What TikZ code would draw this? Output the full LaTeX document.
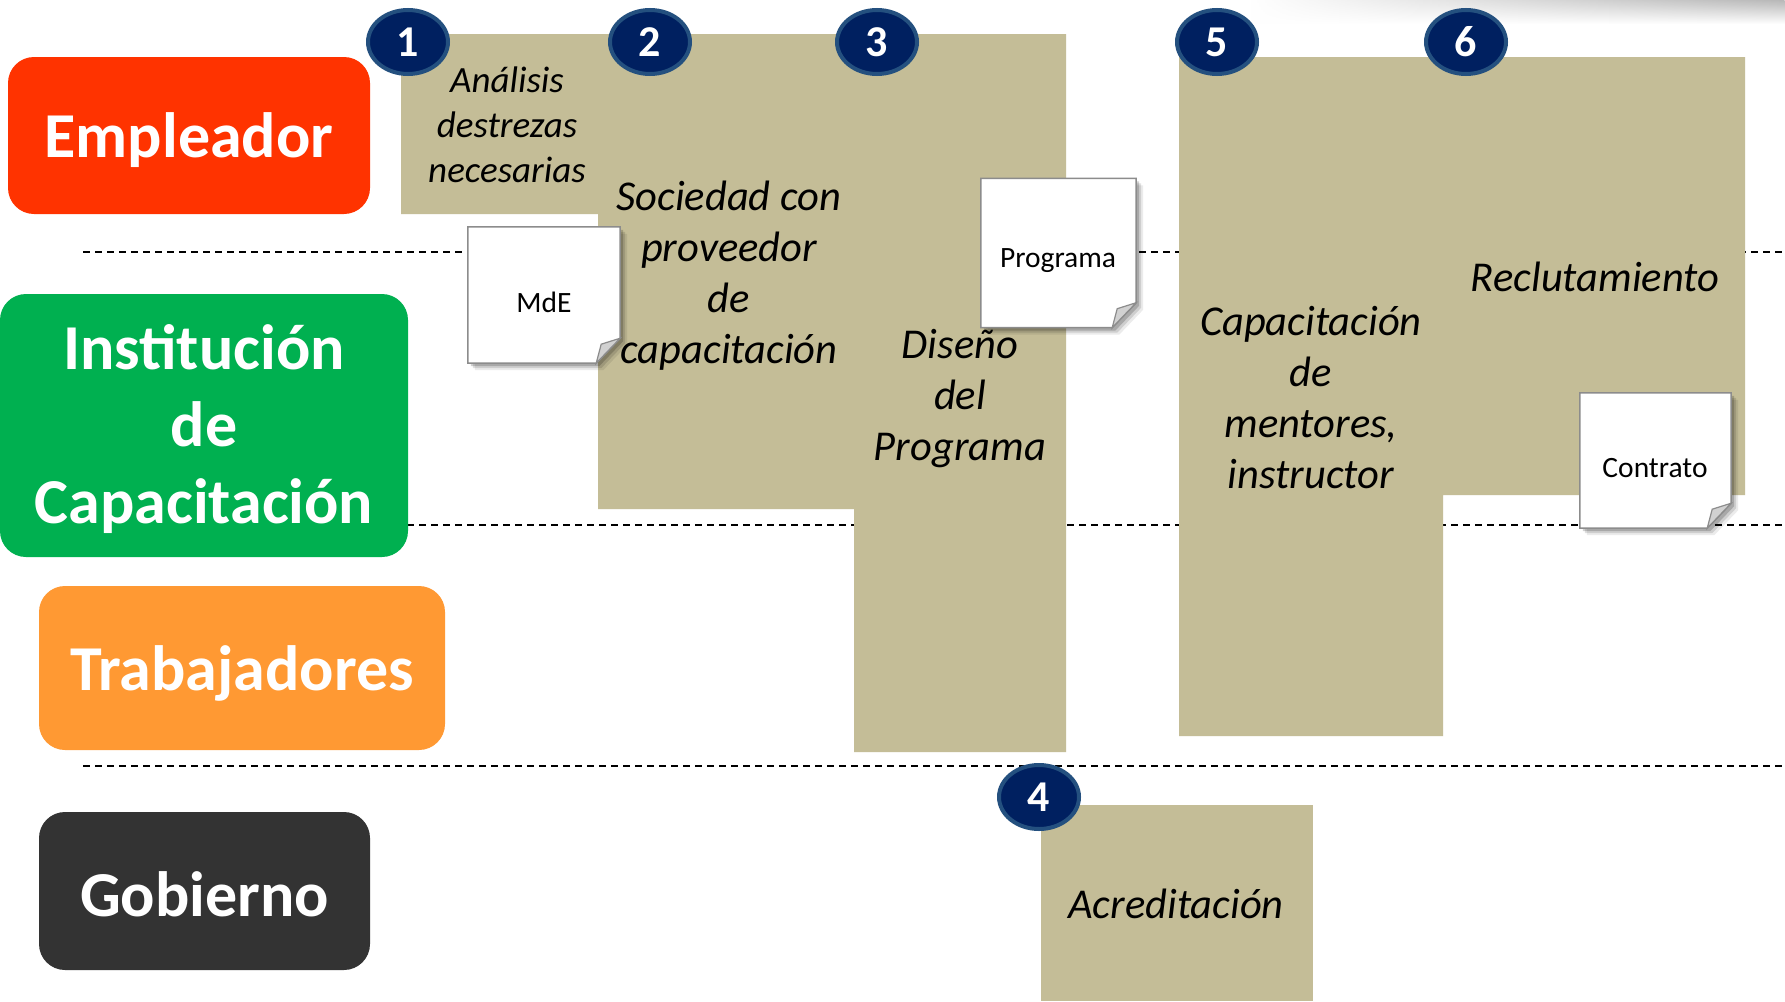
\documentclass[tikz,border=0pt]{standalone}
\usepackage{fontspec}
\setmainfont{Carlito}
\usetikzlibrary{shapes.geometric,calc,fadings}
\definecolor{tanbox}{HTML}{C4BD97}
\definecolor{empred}{HTML}{FF3300}
\definecolor{insgreen}{HTML}{00B050}
\definecolor{traorange}{HTML}{FF9933}
\definecolor{gobdark}{HTML}{333333}
\definecolor{navy}{HTML}{002060}
\definecolor{navyring}{HTML}{24507F}
\tikzfading[name=fadeR, left color=transparent!100, right color=transparent!0]
\tikzset{
  lanebox/.style={rounded corners=26pt, inner sep=0pt, draw=none},
  lanetext/.style={text=white, align=center, inner sep=0pt,
    font=\bfseries\fontsize{64}{77}\selectfont},
  stepnum/.style={ellipse, fill=navy, draw=navyring, line width=4pt,
    minimum width=80pt, minimum height=64pt, inner sep=0pt, text=white,
    font=\bfseries\fontsize{44}{50}\selectfont},
  steptext/.style={align=center, inner sep=0pt, font=\itshape\fontsize{42.5}{51}\selectfont},
  smalltext/.style={align=center, inner sep=0pt, font=\itshape\fontsize{37}{45}\selectfont},
  docnode/.style={inner sep=0pt, font=\fontsize{29.5}{34}\selectfont},
  sep/.style={dash pattern=on 7pt off 5pt, line width=1.6pt, black},
  tanfill/.style={fill=tanbox, draw=none}
}
\newcommand{\docpaper}[1]{%
  \foreach \o/\op in {7/0.08,5/0.12,3/0.18}{%
    \fill[black,opacity=\op] ($(#1.north west)+(\o,\o)$) -- ($(#1.north east)+(\o,\o)$)
      -- ($(#1.south east)+(\o,\o-25)$) -- ($(#1.south east)+(\o-24,\o)$)
      -- ($(#1.south west)+(\o,\o)$) -- cycle;}
  \filldraw[fill=white, draw=black!45, line width=1.5pt] (#1.north west) -- (#1.north east)
    -- ($(#1.south east)+(0,-25)$) -- ($(#1.south east)+(-24,0)$) -- (#1.south west) -- cycle;
  \filldraw[fill=black!18, draw=black!45, line width=1.2pt] ($(#1.south east)+(0,-25)$)
    -- ($(#1.south east)+(-19,-19)$) -- ($(#1.south east)+(-24,0)$) -- cycle;
}
\begin{document}
\begin{tikzpicture}[x=1pt,y=-1pt]
\useasboundingbox (0,0) rectangle (1785,1001);
\fill[white] (0,0) rectangle (1785,1001);
% top-right shading
\shade[top color=black!28, bottom color=white, path fading=fadeR] (1250,0) rectangle (1785,24);

% separator lines
\coordinate (s1a) at (83,252);  \coordinate (s1b) at (1785,252);
\coordinate (s2a) at (83,525);  \coordinate (s2b) at (1785,525);
\coordinate (s3a) at (83,766);  \coordinate (s3b) at (1785,766);
\draw[sep] (s1a) -- (s1b);
\draw[sep] (s2a) -- (s2b);
\draw[sep] (s3a) -- (s3b);

% lane labels
\node[lanebox, fill=empred, minimum width=362pt, minimum height=157pt] (emp) at (189,135.5) {};
\node[lanetext] (empt) at ($(emp)+(0,5)$) {Empleador};
\node[lanebox, fill=insgreen, minimum width=408pt, minimum height=263pt] (ins) at (204,425.5) {};
\node[lanetext] (inst) at ($(ins)+(0,4)$) {Institución\\de\\Capacitación};
\node[lanebox, fill=traorange, minimum width=406pt, minimum height=164pt] (tra) at (242,668) {};
\node[lanetext] (trat) at ($(tra)+(0,5)$) {Trabajadores};
\node[lanebox, fill=gobdark, minimum width=331pt, minimum height=158pt] (gob) at (204.5,891) {};
\node[lanetext] (gobt) at ($(gob)+(0,3)$) {Gobierno};

% tan process areas
\fill[tanfill] (401,34) -- (1066,34) -- (1066,752) -- (854,752) -- (854,509)
  -- (598,509) -- (598,214) -- (401,214) -- cycle;
\fill[tanfill] (1179,57) -- (1745,57) -- (1745,495) -- (1443,495) -- (1443,736)
  -- (1179,736) -- cycle;
\fill[tanfill] (1041,805) rectangle (1313,1001);

% step texts
\node[smalltext] (t1) at (507,125) {Análisis\\destrezas\\necesarias};
\node[steptext] (t2) at (729,276) {Sociedad con\\proveedor\\de\\capacitación};
\node[steptext] (t3) at (960,399) {Diseño\\del\\Programa};
\node[steptext] (t5) at (1311,398) {Capacitación\\de\\mentores,\\instructor};
\node[steptext] (t6) at (1595,277) {Reclutamiento};
\node[steptext] (t4) at (1176,904) {Acreditación};

% documents
\node[docnode, minimum width=152pt, minimum height=136pt] (mde) at (544,295) {};
\docpaper{mde}
\node[docnode] (mdet) at (544,302) {MdE};
\node[docnode, minimum width=155pt, minimum height=149pt] (prog) at (1058.5,253) {};
\docpaper{prog}
\node[docnode] (progt) at (1058,261) {Programa};
\node[docnode, minimum width=151pt, minimum height=135pt] (cont) at (1655.5,460.5) {};
\docpaper{cont}
\node[docnode] (contt) at (1655,468) {Contrato};

% step numbers
\node[stepnum] (n1) at (408,42) {1};
\node[stepnum] (n2) at (650,42) {2};
\node[stepnum] (n3) at (877,42) {3};
\node[stepnum] (n5) at (1217,42) {5};
\node[stepnum] (n6) at (1466,42) {6};
\node[stepnum] (n4) at (1039,797) {4};
\end{tikzpicture}
\end{document}
